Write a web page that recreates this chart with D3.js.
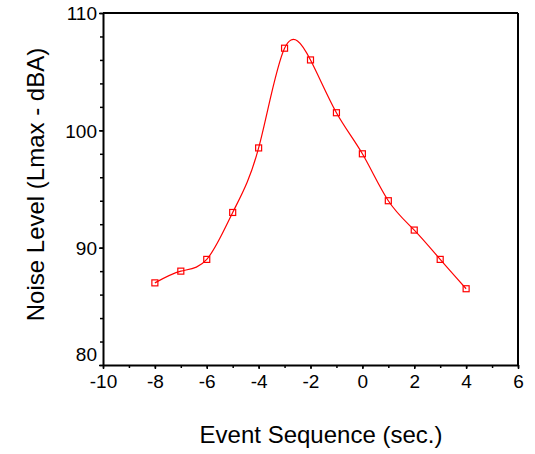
<!DOCTYPE html>
<html>
<head>
<meta charset="utf-8">
<script src="https://cdn.jsdelivr.net/npm/d3@7"></script>
<style>
  body { margin: 0; background: #fff; }
  text { font-family: "Liberation Sans", Arial, sans-serif; fill: #000; }
</style>
</head>
<body>
<div id="chart"></div>
<script>
// event times (sec) and measured levels
var seconds = [-8, -7, -6, -5, -4, -3, -2, -1, 0, 1, 2, 3, 4];
var levels  = [87, 88, 89, 93, 98.5, 107, 106, 101.5, 98, 94, 91.5, 89, 86.5];
var xTicks = [-10, -8, -6, -4, -2, 0, 2, 4, 6];
var yTicks = [80, 90, 100, 110];

var totalWidth = 535, totalHeight = 454;
var margin = {top: 13, right: 17, bottom: 89, left: 103},
    width = totalWidth - margin.left - margin.right,
    height = totalHeight - margin.top - margin.bottom;

var svg = d3.select("#chart").append("svg")
    .attr("width", totalWidth)
    .attr("height", totalHeight)
  .append("g")
    .attr("transform", "translate(" + margin.left + "," + margin.top + ")");

var x = d3.scaleLinear().domain([-10, 6]).range([0, width]);
var y = d3.scaleLinear().domain([80, 110]).range([height, 0]);

// minor ticks first
svg.append("g")
    .attr("transform", "translate(0," + height + ")")
    .call(d3.axisBottom(x).tickValues(d3.range(-10, 7, 1)).tickSize(3).tickFormat(""))
    .call(g => g.select(".domain").remove());
svg.append("g")
    .call(d3.axisLeft(y).tickValues(d3.range(80, 111, 2)).tickSize(3).tickFormat(""))
    .call(g => g.select(".domain").remove());

// major ticks + labels (plain hyphen for negatives)
var xAxis = svg.append("g")
    .attr("transform", "translate(0," + height + ")")
    .call(d3.axisBottom(x).tickValues(xTicks).tickSize(4).tickSizeOuter(0).tickPadding(6)
      .tickFormat(function(d) { return String(d); }));
xAxis.selectAll("text").style("font-size", "19px");

var yAxis = svg.append("g")
    .call(d3.axisLeft(y).tickValues(yTicks).tickSize(4).tickSizeOuter(0).tickPadding(2)
      .tickFormat(function(d) { return String(d); }));
yAxis.selectAll("text").style("font-size", "19px").attr("dy", "0.36em");
// bottom label sits above the corner
yAxis.selectAll(".tick").filter(function(d) { return d === 80; })
    .select("text").attr("y", -11);

svg.selectAll(".domain").attr("stroke-width", 2);
svg.selectAll(".tick line").attr("stroke-width", 1.5);

// box top and right
svg.append("line").attr("x1", 0).attr("x2", width).attr("y1", 0).attr("y2", 0)
    .attr("stroke", "#000").attr("stroke-width", 2);
svg.append("line").attr("x1", width).attr("x2", width).attr("y1", 0).attr("y2", height)
    .attr("stroke", "#000").attr("stroke-width", 2);

var data = seconds.map(function(s, i) { return {s: s, v: levels[i]}; });

var line = d3.line()
    .x(function(d) { return x(d.s); })
    .y(function(d) { return y(d.v); })
    .curve(d3.curveNatural);

svg.append("path")
    .datum(data)
    .attr("fill", "none")
    .attr("stroke", "#ff0000")
    .attr("stroke-width", 1.2)
    .attr("d", line);

svg.selectAll("rect.pt")
    .data(data)
  .enter().append("rect")
    .attr("class", "pt")
    .attr("x", function(d) { return x(d.s) - 3; })
    .attr("y", function(d) { return y(d.v) - 3; })
    .attr("width", 6)
    .attr("height", 6)
    .attr("fill", "none")
    .attr("stroke", "#ff0000")
    .attr("stroke-width", 1.2);

// axis titles
svg.append("text")
    .attr("x", 321 - margin.left)
    .attr("y", 443 - margin.top)
    .style("text-anchor", "middle")
    .style("font-size", "24px")
    .text("Event Sequence (sec.)");

svg.append("text")
    .attr("transform", "translate(" + (44 - margin.left) + "," + (184.5 - margin.top) + ") rotate(-90)")
    .style("text-anchor", "middle")
    .style("font-size", "24px")
    .text("Noise Level (Lmax - dBA)");
</script>
</body>
</html>
